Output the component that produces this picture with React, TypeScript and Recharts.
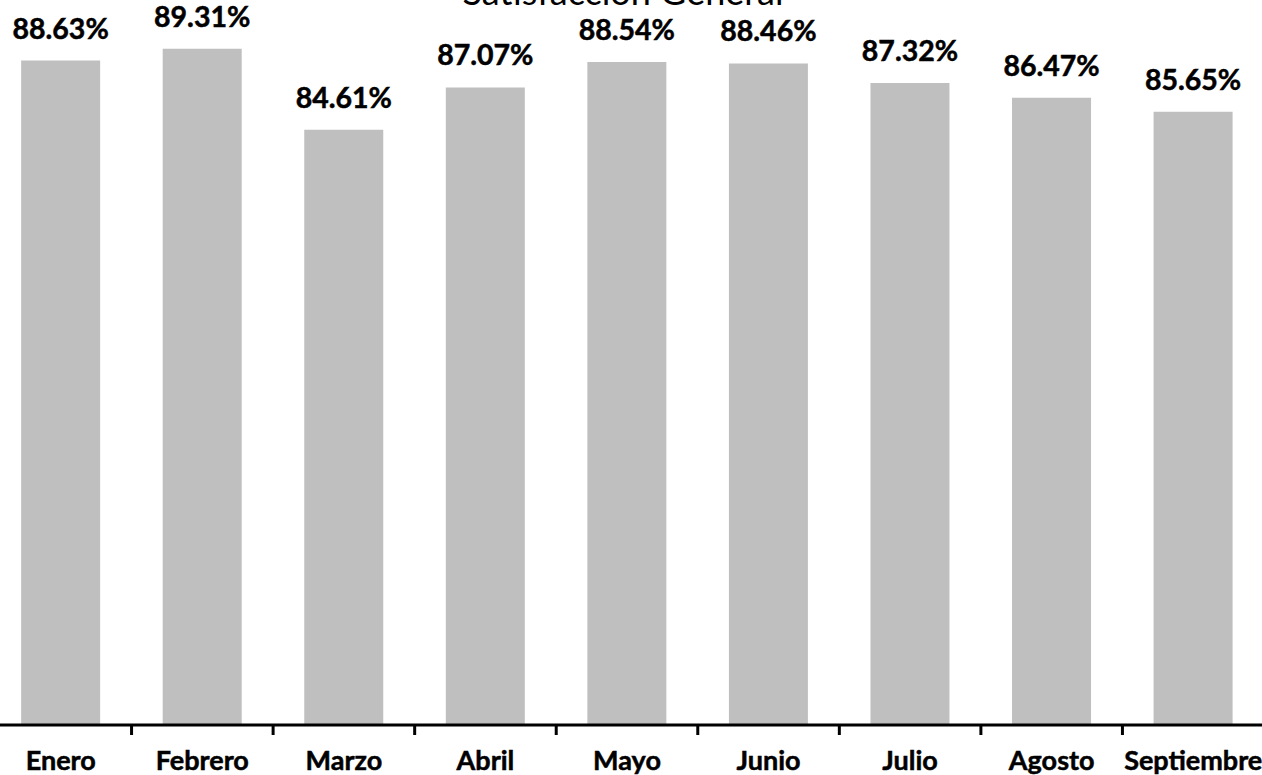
import { BarChart, Bar, XAxis, YAxis, LabelList } from "recharts";

const MONTHS = ["Enero", "Febrero", "Marzo", "Abril", "Mayo", "Junio", "Julio", "Agosto", "Septiembre"];
const SATISFACCION = [88.63, 89.31, 84.61, 87.07, 88.54, 88.46, 87.32, 86.47, 85.65];
const Y_DOMAIN = [50, 90];
const TITLE = "Satisfacción General";

const GREY = "#BFBFBF";
const FONT = "Lato, 'Open Sans', sans-serif";

const data = MONTHS.map((m, i) => ({ month: m, value: SATISFACCION[i] }));

function MonthTick(props: any) {
  const { x, y, payload } = props;
  const half = payload?.offset ?? 0;
  return (
    <g>
      <line x1={x + half} y1={y} x2={x + half} y2={y + 10} stroke="#000" strokeWidth={3} />
      <text
        x={x}
        y={y + 45}
        textAnchor="middle"
        fontFamily={FONT}
        fontWeight={700}
        fontSize={27}
        fill="#000"
        stroke="#000"
        strokeWidth={0.5}
      >
        {payload.value}
      </text>
    </g>
  );
}

export default function App() {
  return (
    <div
      style={{
        position: "absolute",
        left: 0,
        top: 0,
        width: 1262,
        height: 775,
        overflow: "hidden",
        background: "#fff",
      }}
    >
      <div style={{ position: "absolute", left: -10, top: 0 }}>
        <BarChart
          width={1274}
          height={775}
          data={data}
          margin={{ top: 37, right: 0, bottom: 0, left: 0 }}
          barCategoryGap="22%"
        >
          <XAxis
            dataKey="month"
            height={50}
            interval={0}
            tickSize={0}
            tickMargin={0}
            tickLine={false}
            axisLine={{ stroke: "#000", strokeWidth: 3 }}
            tick={<MonthTick />}
          />
          <YAxis hide domain={Y_DOMAIN} allowDataOverflow />
          <Bar dataKey="value" fill={GREY} isAnimationActive={false}>
            <LabelList
              dataKey="value"
              position="top"
              offset={22}
              formatter={(v: any) => `${Number(v).toFixed(2)}%`}
              style={{
                fontFamily: FONT,
                fontWeight: 700,
                fontSize: 28.5,
                fill: "#000",
                stroke: "#000",
                strokeWidth: 0.5,
              }}
            />
          </Bar>
        </BarChart>
      </div>
      <svg
        width={1262}
        height={775}
        style={{ position: "absolute", left: 0, top: 0, pointerEvents: "none" }}
      >
        <text x={623} y={5} textAnchor="middle" fontFamily={FONT} fontSize={36} fill="#000">
          {TITLE}
        </text>
      </svg>
    </div>
  );
}
